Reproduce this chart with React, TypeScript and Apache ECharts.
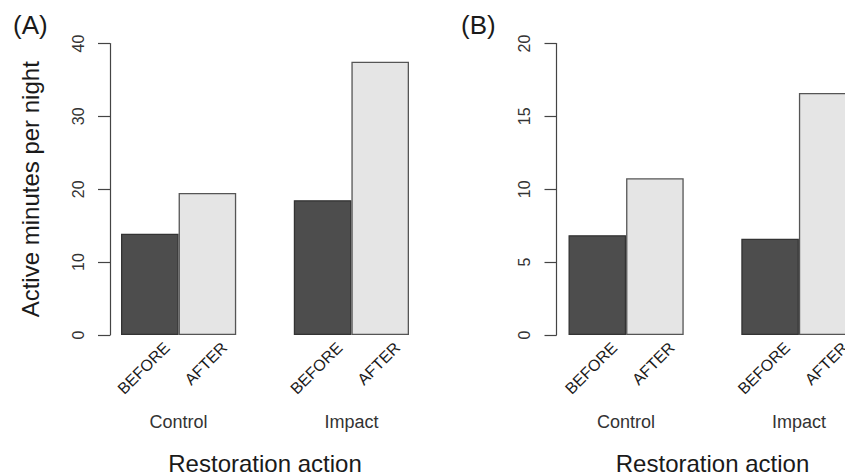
import React, { useEffect, useRef } from "react";
import * as echarts from "echarts";

// Bar slots along each panel's x axis (empty slot = gap between groups)
const slots = ["BEFORE", "AFTER", "", "BEFORE", "AFTER"];
// Group labels at integer positions 0..5 of the group scale
const groupTicks = ["", "Control", "", "", "Impact", ""];

// Panel (A)
const beforeA = [13.9, 18.5];
const afterA = [19.5, 37.5];
const yTicksA = [0, 10, 20, 30, 40];
// Panel (B)
const beforeB = [6.85, 6.6];
const afterB = [10.75, 16.6];
const yTicksB = [0, 5, 10, 15, 20];

const FONT = "'Liberation Sans', Arial, sans-serif";
const DARK = "#4d4d4d";
const LIGHT = "#e5e5e5";

function slotData(vals: number[], period: string) {
  // place each group's value in its BEFORE/AFTER slot
  const out: (number | string)[] = slots.map(() => "-");
  let g = 0;
  slots.forEach((s, i) => {
    if (s === period) {
      out[i] = vals[g];
      g++;
    }
  });
  return out;
}

export default function App() {
  const ref = useRef<HTMLDivElement>(null);
  useEffect(() => {
    if (!ref.current) return;
    const chart = echarts.init(ref.current, undefined, { renderer: "svg" });
    const top = 43.5;
    const height = 291.5;
    const barLefts = [121, 568.5];
    const labelShift = 17;
    const width = 288;

    const grids = [
      ...barLefts.map((l) => ({ left: l, top, width, height, containLabel: false, outerBoundsMode: "none" })),
      ...barLefts.map((l) => ({ left: l + labelShift, top, width, height, containLabel: false, outerBoundsMode: "none" })),
    ];

    const xAxis: any[] = [];
    [0, 1].forEach((gi) => {
      xAxis.push({
        type: "category",
        gridIndex: gi,
        data: slots,
        position: "bottom",
        axisLine: { show: false },
        axisTick: { show: false },
        axisLabel: { show: false },
        splitLine: { show: false },
      });
      xAxis.push({
        type: "value",
        gridIndex: gi,
        position: "bottom",
        min: 0,
        max: groupTicks.length - 1,
        interval: 1,
        axisLine: { show: false, onZero: false },
        axisTick: { show: false },
        splitLine: { show: false },
        axisLabel: {
          margin: 78,
          fontSize: 18,
          fontFamily: FONT,
          color: "#333",
          formatter: (v: number) => groupTicks[Math.round(v)] || "",
        },
        name: "Restoration action",
        nameLocation: "middle",
        nameGap: 116,
        nameTextStyle: { fontSize: 24, fontFamily: FONT, color: "#1a1a1a" },
      });
    });
    [2, 3].forEach((gi) => {
      xAxis.push({
        type: "category",
        gridIndex: gi,
        data: slots,
        position: "bottom",
        axisLine: { show: false },
        axisTick: { show: false },
        splitLine: { show: false },
        axisLabel: {
          interval: 0,
          rotate: 45,
          margin: 10,
          fontSize: 16,
          fontFamily: FONT,
          color: "#1a1a1a",
        },
      });
    });

    const yBase = (gi: number, ticks: number[], offset: number) => ({
      type: "value",
      gridIndex: gi,
      min: ticks[0],
      max: ticks[ticks.length - 1],
      interval: ticks[1] - ticks[0],
      offset,
      axisLine: { show: true, onZero: false, lineStyle: { color: "#444", width: 1.2 } },
      axisTick: { show: true, length: 12, lineStyle: { color: "#444", width: 1.2 } },
      splitLine: { show: false },
      axisLabel: {
        rotate: 90,
        margin: 24,
        fontSize: 16,
        fontFamily: FONT,
        color: "#333",
      },
    });

    const yAxis: any[] = [
      {
        ...yBase(0, yTicksA, 11),
        name: "Active minutes per night",
        nameLocation: "middle",
        nameGap: 68,
        nameTextStyle: { fontSize: 24, fontFamily: FONT, color: "#1a1a1a" },
      },
      yBase(1, yTicksB, 12),
      { type: "value", gridIndex: 2, show: false, min: 0, max: 1 },
      { type: "value", gridIndex: 3, show: false, min: 0, max: 1 },
    ];

    const barSeries = (xi: number, yi: number, vals: number[], period: string, color: string, border: string) => ({
      type: "bar",
      name: period,
      xAxisIndex: xi,
      yAxisIndex: yi,
      data: slotData(vals, period),
      barGap: "-100%",
      barCategoryGap: "0%",
      itemStyle: { color, borderColor: border, borderWidth: 1.3 },
      emphasis: { disabled: true },
    });

    const series = [
      barSeries(0, 0, beforeA, "BEFORE", DARK, "#333"),
      barSeries(0, 0, afterA, "AFTER", LIGHT, "#555"),
      barSeries(2, 1, beforeB, "BEFORE", DARK, "#333"),
      barSeries(2, 1, afterB, "AFTER", LIGHT, "#555"),
    ];

    const titleStyle = { fontSize: 26, fontWeight: "normal", fontFamily: FONT, color: "#1a1a1a" };
    chart.setOption({
      animation: false,
      backgroundColor: "#fff",
      title: [
        { text: "(A)", left: 13, top: 12, padding: 0, textStyle: titleStyle },
        { text: "(B)", left: 461, top: 12, padding: 0, textStyle: titleStyle },
      ],
      grid: grids,
      xAxis,
      yAxis,
      series,
    });
    return () => chart.dispose();
  }, []);

  return (
    <div style={{ position: "fixed", left: 0, top: 0, width: 845, height: 476, overflow: "hidden", background: "#fff" }}>
      <div ref={ref} style={{ width: 880, height: 476 }} />
    </div>
  );
}
